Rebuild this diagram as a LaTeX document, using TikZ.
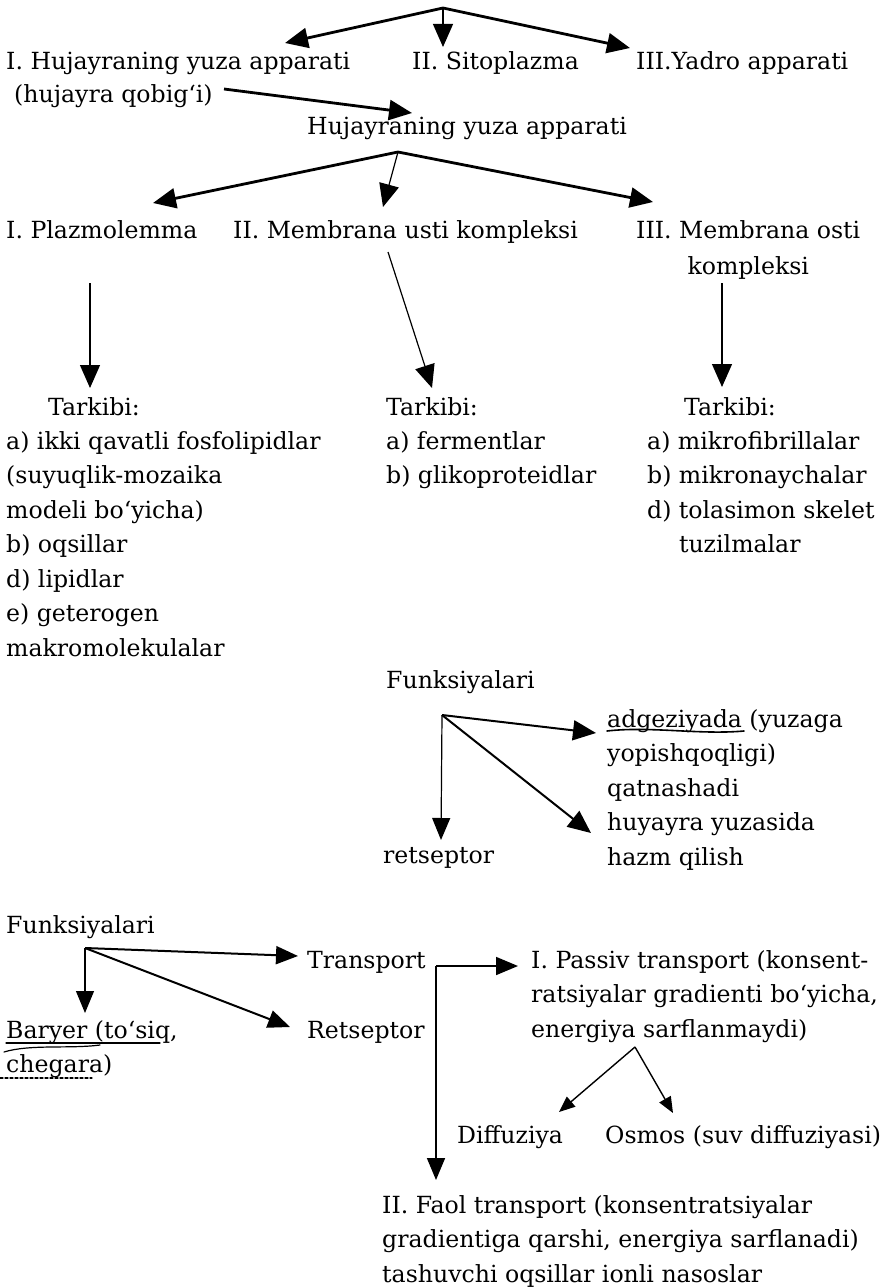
\documentclass[tikz,border=0pt]{standalone}
\usepackage{fontspec}
\setmainfont{DejaVu Serif}
\usetikzlibrary{arrows.meta}
\newcommand{\mylines}[1]{\begin{tabular}[t]{@{}l@{}}#1\end{tabular}}
\newcommand{\mylinesc}[1]{\begin{tabular}[t]{@{}c@{}}#1\end{tabular}}
\tikzset{
  txt/.style={font=\fontsize{23.6}{34.5}\selectfont, inner sep=0pt, anchor=base west},
  bigtip/.style={-{Triangle[length=23pt,width=20pt]}},
  midtip/.style={-{Triangle[length=22pt,width=18pt]}},
  smalltip/.style={-{Triangle[length=16pt,width=13pt]}},
  thick3/.style={line width=2.8pt},
  thick2/.style={line width=2pt},
  thin1/.style={line width=1.2pt},
  hand/.style={line width=1.2pt, line cap=round}
}
\begin{document}
\begin{tikzpicture}[x=1pt,y=-1pt]
\useasboundingbox (0,0) rectangle (880,1287);
% ---------- texts ----------
\node[txt] (r1a) at (6,70) {I. Hujayraning yuza apparati};
\node[txt] (r1b) at (412,70) {II. Sitoplazma};
\node[txt] (r1c) at (636,70) {III.Yadro apparati};
\node[txt] (qob) at (14,103) {(hujayra qobig‘i)};
\node[txt] (hya) at (307,135) {Hujayraning yuza apparati};
\node[txt] (r2a) at (6,238) {I. Plazmolemma};
\node[txt] (r2b) at (233,238) {II. Membrana usti kompleksi};
\node[txt] (r2c) at (636,238) {\mylinesc{III. Membrana osti\\[2pt] kompleksi}};
\node[txt] (t1) at (48,415) {Tarkibi:};
\node[txt] (t2) at (386,415) {Tarkibi:};
\node[txt] (t3) at (684,415) {Tarkibi:};
\node[txt] (l1) at (6,449) {\mylines{a) ikki qavatli fosfolipidlar\\(suyuqlik-mozaika\\modeli bo‘yicha)\\b) oqsillar\\d) lipidlar\\e) geterogen\\makromolekulalar}};
\node[txt] (l2) at (386,449) {\mylines{a) fermentlar\\b) glikoproteidlar}};
\node[txt] (l3) at (647,449) {\mylines{a) mikrofibrillalar\\b) mikronaychalar\\d) tolasimon skelet\\\phantom{d) }tuzilmalar}};
\node[txt] (fk1) at (386,688) {Funksiyalari};
\node[txt] (adg) at (607,727) {\mylines{adgeziyada (yuzaga\\yopishqoqligi)\\qatnashadi\\huyayra yuzasida\\hazm qilish}};
\node[txt] (ret) at (383,863) {retseptor};
\node[txt] (fk2) at (6,933) {Funksiyalari};
\node[txt] (tra) at (307,968) {Transport};
\node[txt] (rts) at (307,1038) {Retseptor};
\node[txt] (bar) at (6,1038) {\mylines{Baryer (to‘siq,\\chegara)}};
\node[txt] (pas) at (531,968) {\mylines{I. Passiv transport (konsent-\\ratsiyalar gradienti bo‘yicha,\\energiya sarflanmaydi)}};
\node[txt] (dif) at (457,1143) {Diffuziya};
\node[txt] (osm) at (605,1143) {Osmos (suv diffuziyasi)};
\node[txt] (fao) at (382,1213) {\mylines{II. Faol transport (konsentratsiyalar\\gradientiga qarshi, energiya sarflanadi)\\tashuvchi oqsillar ionli nasoslar}};
% ---------- fork points and arrow ends ----------
\coordinate (c0) at (443,8);
\coordinate (e0a) at (285,43);
\coordinate (e0b) at (443,47);
\coordinate (e0c) at (630,48);
\coordinate (q0) at (224,89);
\coordinate (q1) at (412,113);
\coordinate (c1) at (398,152);
\coordinate (e1a) at (153,203);
\coordinate (e1b) at (383,207);
\coordinate (e1c) at (653,202);
\coordinate (v1s) at (90,283);
\coordinate (v1e) at (90,388);
\coordinate (v2s) at (388,252);
\coordinate (v2e) at (432,388);
\coordinate (v3s) at (722,283);
\coordinate (v3e) at (722,387);
\coordinate (c2) at (442,715);
\coordinate (e2a) at (596,733);
\coordinate (e2b) at (591,833);
\coordinate (e2c) at (441,840);
\coordinate (c3) at (85,948);
\coordinate (e3a) at (298,956);
\coordinate (e3b) at (290,1027);
\coordinate (e3c) at (85,1013);
\coordinate (c4) at (436,966);
\coordinate (e4a) at (518,966);
\coordinate (e4b) at (436,1180);
\coordinate (c5) at (635,1047);
\coordinate (e5a) at (559,1112);
\coordinate (e5b) at (673,1113);
% ---------- connectors ----------
\draw[thick3,bigtip] (c0) -- (e0a);
\draw[thin1,bigtip] (c0) -- (e0b);
\draw[thick3,bigtip] (c0) -- (e0c);
\draw[thick3,bigtip] (q0) -- (q1);
\draw[thick3,bigtip] (c1) -- (e1a);
\draw[thin1,bigtip] (c1) -- (e1b);
\draw[thick3,bigtip] (c1) -- (e1c);
\draw[thin1,bigtip] (v1s) -- (v1e);
\draw[thin1,bigtip] (v2s) -- (v2e);
\draw[thin1,bigtip] (v3s) -- (v3e);
\draw[thick2,bigtip] (c2) -- (e2a);
\draw[thick2,bigtip] (c2) -- (e2b);
\draw[thin1,midtip] (c2) -- (e2c);
\draw[thick2,midtip] (c3) -- (e3a);
\draw[thick2,midtip] (c3) -- (e3b);
\draw[thin1,midtip] (c3) -- (e3c);
\draw[line width=1.7pt,midtip] (c4) -- (e4a);
\draw[line width=1.7pt,midtip] (c4) -- (e4b);
\draw[line width=1.4pt,smalltip] (c5) -- (e5a);
\draw[line width=1.4pt,smalltip] (c5) -- (e5b);
% ---------- handwritten underlines ----------
\draw[hand,line width=1.6pt] (607,731) .. controls (650,726) and (700,735) .. (744,731);
\draw[hand] (6,1043) -- (160,1043);
\draw[hand] (4,1052) .. controls (30,1044) and (70,1049) .. (100,1045);
\draw[hand,dashed,dash pattern=on 3pt off 2pt] (0,1078) -- (92,1078);
\end{tikzpicture}
\end{document}
